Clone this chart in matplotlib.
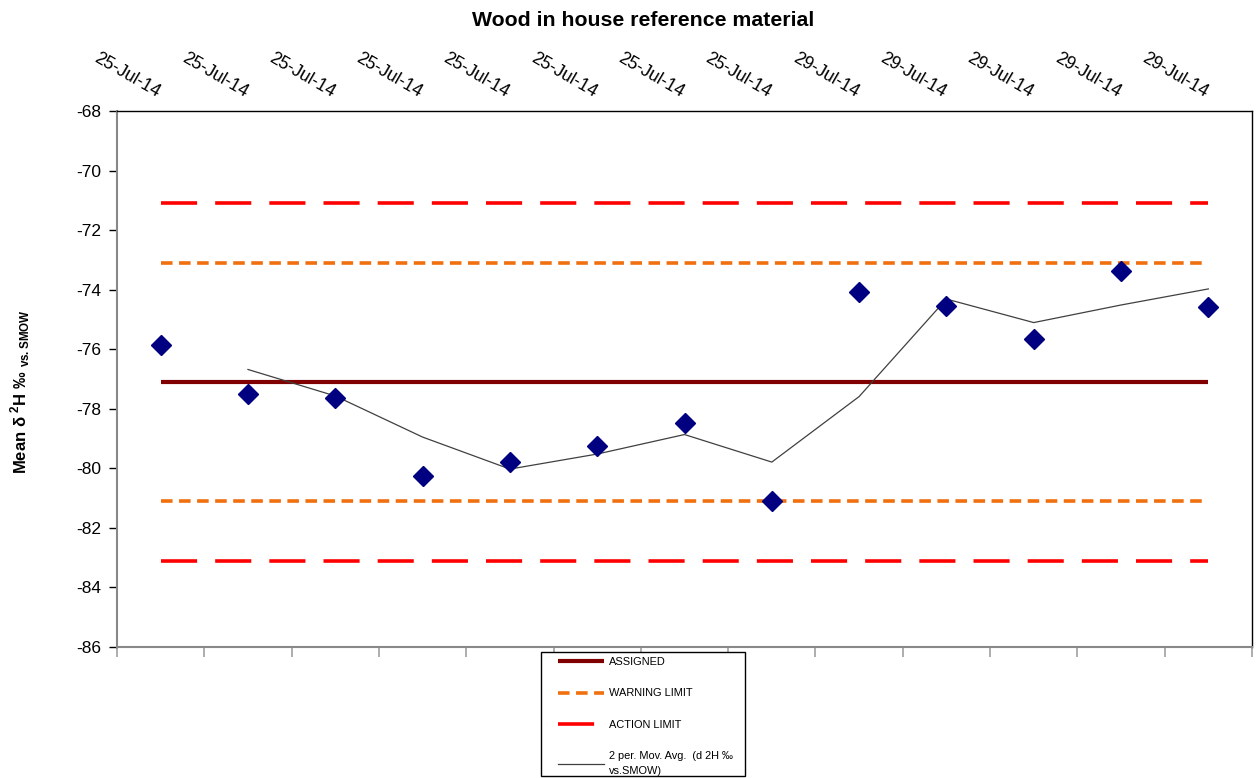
import matplotlib
matplotlib.use("Agg")
import matplotlib.pyplot as plt
import matplotlib.transforms as mtransforms
from matplotlib.patches import Rectangle
import numpy as np
import pandas as pd

plt.rcParams["font.family"] = ["Liberation Sans", "DejaVu Sans"]
plt.rcParams["mathtext.fontset"] = "custom"
plt.rcParams["mathtext.rm"] = "Liberation Sans"
plt.rcParams["mathtext.bf"] = "Liberation Sans:bold"

# Run dates and measured mean delta 2H values
dates = ["25-Jul-14"] * 8 + ["29-Jul-14"] * 5
values = [-75.86, -77.50, -77.64, -80.26, -79.79, -79.25, -78.48,
          -81.10, -74.08, -74.55, -75.66, -73.37, -74.58]

# Control limits
assigned = -77.1
warning_limits = [-73.1, -81.1]
action_limits = [-71.1, -83.1]

yticks = list(range(-86, -67, 2))

x = np.arange(len(values))
mov_avg = pd.Series(values).rolling(2).mean().to_numpy()

W, H = 1258, 778
fig = plt.figure(figsize=(W / 100, H / 100), dpi=100)
ax = fig.add_axes([117 / W, 1 - 647 / H, (1252 - 117) / W, (647 - 111) / H])

xe = [x[0], x[-1]]
ax.plot(xe, [assigned] * 2, color="#800000", lw=3, solid_capstyle="butt",
        label="ASSIGNED", zorder=2)
for i, v in enumerate(warning_limits):
    ax.plot(xe, [v] * 2, color="#F07010", lw=2.6, dashes=(3.2, 1.8),
            label="WARNING LIMIT" if i == 0 else None, zorder=2)
for i, v in enumerate(action_limits):
    ax.plot(xe, [v] * 2, color="#FF0000", lw=2.6, dashes=(10, 5),
            label="ACTION LIMIT" if i == 0 else None, zorder=2)

ax.plot(x, values, linestyle="none", marker="D", ms=10.5, color="#000080",
        markeredgecolor="#000080", zorder=4)
ax.plot(x, mov_avg, color="#404040", lw=0.9,
        label="2 per. Mov. Avg.  (d 2H \u2030\nvs.SMOW)", zorder=3)

ax.set_xlim(-0.5, len(values) - 0.5)
ax.set_ylim(-86, -68)
ax.set_yticks(yticks)
ax.set_yticklabels([str(t) for t in yticks], fontsize=12.5)
ax.tick_params(axis="y", direction="out", length=6, width=1, colors="black",
               pad=5)

ax.set_xticks(np.arange(-0.5, len(values), 1.0))
ax.set_xticklabels([])
ax.tick_params(axis="x", direction="out", length=7, width=1.2,
               color="#A0A0A0")

for side in ("left", "bottom"):
    ax.spines[side].set_color("#888888")
    ax.spines[side].set_linewidth(1.5)
for side in ("top", "right"):
    ax.spines[side].set_color("black")
    ax.spines[side].set_linewidth(1.0)

# Date labels along the top edge
trans = mtransforms.blended_transform_factory(ax.transData, ax.transAxes)
for xi, d in zip(x, dates):
    ax.text(xi - 0.07, 1.0195, d, transform=trans, rotation=-30,
            rotation_mode="anchor", ha="right", va="bottom", fontsize=12.7)

fig.text(0.5115, 1 - 20 / H, "Wood in house reference material",
         ha="center", va="center", fontsize=15.3, fontweight="bold")

fig.text(20 / W, 1 - 392 / H,
         r"Mean δ $^{\mathbf{2}}$H ‰ $_{\mathbf{vs.SMOW}}$",
         rotation=90, ha="center", va="center", fontsize=12,
         fontweight="bold")

# Legend box below the plot
fig.add_artist(Rectangle((541 / W, 1 - 776 / H), 204 / W, 124 / H,
                         transform=fig.transFigure, facecolor="white",
                         edgecolor="black", linewidth=1.0))
leg = fig.legend(loc="upper left", bbox_to_anchor=(558 / W, 1 - 657 / H),
                 bbox_transform=fig.transFigure, fontsize=7.9,
                 frameon=False, handlelength=4.2, labelspacing=1.95,
                 borderpad=0, handletextpad=0.45, borderaxespad=0)
for t in leg.get_texts():
    t.set_linespacing(1.6)

fig.savefig("out.png", dpi=100, facecolor="white")
